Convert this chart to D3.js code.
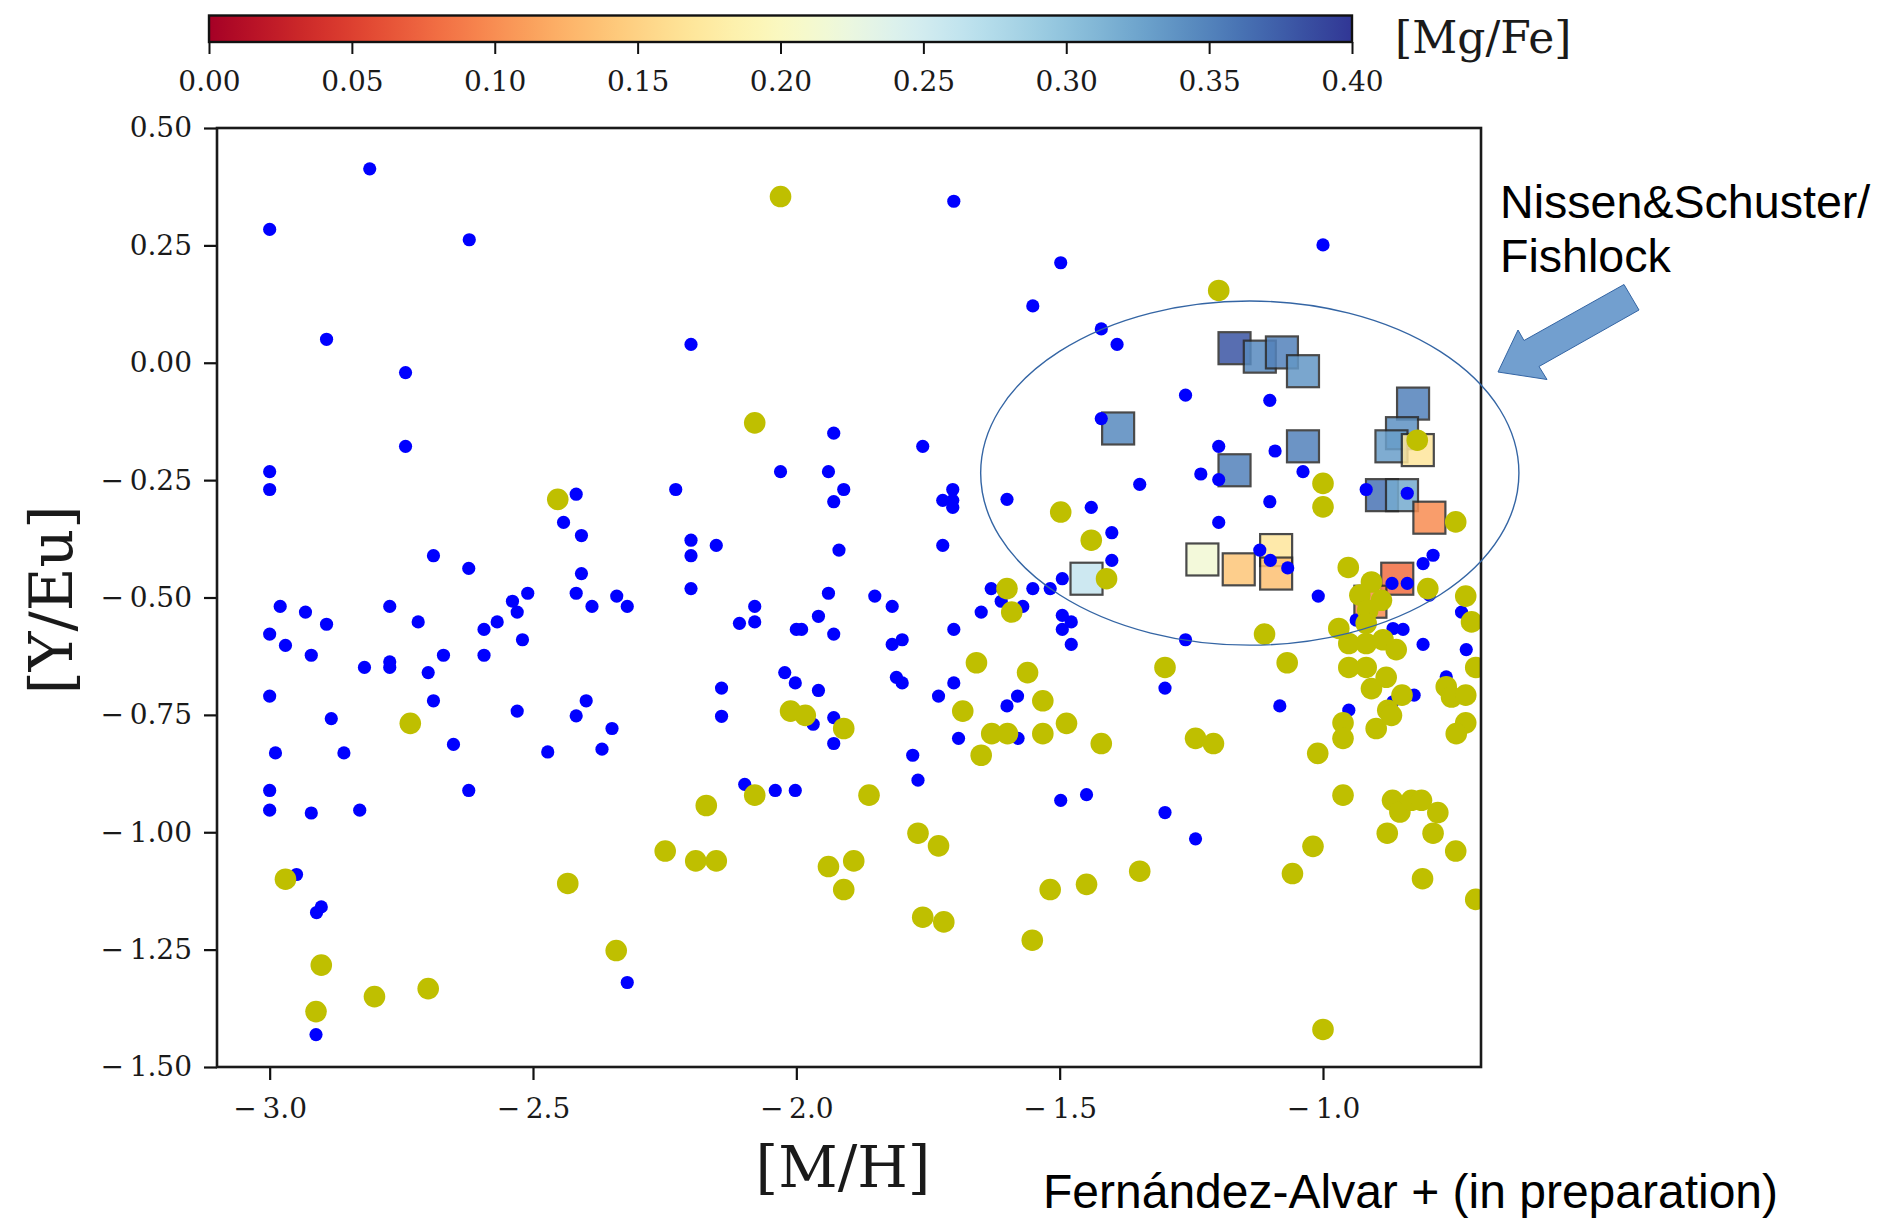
<!DOCTYPE html>
<html>
<head>
<meta charset="utf-8">
<script src="https://cdn.jsdelivr.net/npm/d3@7"></script>
<style>
  html, body { margin: 0; padding: 0; background: #fff; }
  svg { display: block; }
</style>
</head>
<body>
<svg id="chart" width="1885" height="1218"></svg>
<script>
// ---------------- DATA ----------------
// Blue points (Fernández-Alvar sample, small blue dots): [M/H]
const blueX = [
  -2.810,-3.000,-2.621,-2.892,-2.742,-1.701,-1.498,-1.551,-2.200,-1.929,
  -1.000,-1.421,-1.391,-1.261,-1.101,-1.421,-1.198,-1.091,-1.232,-1.198,
  -1.348,-1.038,-0.918,-0.840,-1.101,-1.440,-1.198,-1.401,-1.401,-1.495,
  -1.120,-1.100,-1.067,-0.791,-0.810,-0.869,-0.840,-1.009,-0.798,-0.737,
  -1.495,-1.478,-1.495,-1.478,-1.261,-0.937,-0.867,-0.848,-0.810,-0.728,
  -0.766,-1.300,-0.827,-0.867,-1.082,-0.951,-1.760,-2.030,-1.939,-2.229,
  -1.910,-1.929,-1.703,-1.722,-1.703,-1.703,-1.600,-2.200,-2.152,-2.200,
  -1.919,-1.722,-2.200,-1.939,-1.851,-1.818,-2.079,-2.108,-2.079,-2.000,
  -1.990,-1.958,-1.929,-1.818,-1.799,-1.630,-1.611,-1.570,-1.551,-1.518,
  -1.649,-1.701,-2.022,-2.002,-1.958,-2.142,-2.142,-1.810,-1.799,-1.701,
  -1.730,-1.580,-1.600,-1.968,-1.929,-1.929,-1.779,-1.692,-1.579,-1.769,
  -2.098,-2.040,-2.002,-1.498,-2.321,-1.449,-1.300,-1.242,-2.989,-2.859,
  -2.651,-2.472,-2.369,-3.000,-3.000,-2.921,-2.829,-2.622,-2.949,-2.902,
  -2.911,-2.912,-2.742,-3.000,-3.000,-2.418,-2.442,-2.408,-2.689,-2.622,
  -2.408,-2.510,-2.539,-2.530,-2.418,-2.388,-2.341,-2.321,-2.980,-2.932,
  -2.892,-2.772,-2.718,-3.000,-2.970,-2.921,-2.820,-2.772,-2.772,-2.699,
  -2.670,-2.593,-2.568,-2.593,-2.520,-3.000,-2.689,-2.883,-2.530,-2.399,
  -2.418,-2.350
];
// Blue points: [Y/Eu]
const blueY = [
   0.413, 0.284, 0.262, 0.050,-0.021, 0.344, 0.213, 0.121, 0.039,-0.150,
   0.251, 0.072, 0.039,-0.069,-0.080,-0.119,-0.178,-0.188,-0.237,-0.249,
  -0.259,-0.232,-0.270,-0.278,-0.296,-0.308,-0.340,-0.362,-0.421,-0.460,
  -0.399,-0.421,-0.437,-0.410,-0.428,-0.470,-0.470,-0.497,-0.495,-0.531,
  -0.538,-0.552,-0.568,-0.600,-0.590,-0.548,-0.566,-0.568,-0.600,-0.611,
  -0.669,-0.693,-0.708,-0.722,-0.731,-0.740,-0.178,-0.232,-0.232,-0.270,
  -0.270,-0.296,-0.270,-0.293,-0.293,-0.308,-0.291,-0.378,-0.389,-0.411,
  -0.399,-0.389,-0.481,-0.491,-0.497,-0.519,-0.519,-0.555,-0.552,-0.568,
  -0.568,-0.540,-0.578,-0.600,-0.590,-0.481,-0.508,-0.519,-0.481,-0.481,
  -0.531,-0.568,-0.660,-0.682,-0.698,-0.693,-0.753,-0.670,-0.682,-0.682,
  -0.710,-0.710,-0.731,-0.770,-0.756,-0.811,-0.836,-0.800,-0.800,-0.889,
  -0.898,-0.911,-0.911,-0.932,-1.320,-0.920,-0.958,-1.014,-0.831,-0.831,
  -0.813,-0.829,-0.823,-0.911,-0.953,-0.959,-0.953,-0.911,-1.090,-1.159,
  -1.171,-1.431,-0.178,-0.232,-0.270,-0.280,-0.340,-0.368,-0.411,-0.438,
  -0.449,-0.491,-0.508,-0.531,-0.491,-0.519,-0.497,-0.519,-0.519,-0.531,
  -0.557,-0.519,-0.552,-0.578,-0.602,-0.623,-0.649,-0.637,-0.649,-0.660,
  -0.623,-0.568,-0.552,-0.623,-0.590,-0.710,-0.720,-0.758,-0.742,-0.720,
  -0.752,-0.779
];
// Yellow points (large olive dots): [M/H]
const yellowX = [
  -2.030,-2.079,-1.198,-0.821,-1.498,-1.440,-1.411,-1.000,-1.000,-0.748,
  -0.952,-0.908,-0.930,-0.889,-0.915,-0.918,-0.801,-0.729,-0.718,-1.111,
  -0.970,-0.951,-0.918,-0.886,-0.861,-1.068,-1.300,-0.951,-0.918,-0.880,
  -0.908,-0.710,-0.766,-0.756,-0.729,-0.850,-0.877,-0.870,-0.899,-0.962,
  -0.962,-1.010,-0.729,-0.747,-1.487,-1.421,-1.242,-1.208,-1.600,-1.591,
  -1.658,-1.561,-1.532,-1.684,-1.629,-1.599,-1.532,-1.649,-2.011,-1.983,
  -1.910,-2.079,-2.171,-1.862,-2.249,-2.191,-2.152,-1.939,-1.891,-1.910,
  -1.769,-1.730,-1.760,-1.720,-1.518,-1.552,-1.449,-1.348,-0.962,-1.019,
  -1.058,-0.868,-0.854,-0.832,-0.813,-0.782,-0.878,-0.791,-0.748,-0.811,
  -0.710,-1.000,-2.970,-2.902,-2.912,-2.801,-2.699,-2.434,-2.342,-2.453,
  -2.733
];
// Yellow points: [Y/Eu]
const yellowY = [
   0.354,-0.128, 0.154,-0.165,-0.318,-0.378,-0.460,-0.257,-0.307,-0.339,
  -0.436,-0.467,-0.495,-0.506,-0.527,-0.555,-0.481,-0.497,-0.552,-0.578,
  -0.566,-0.598,-0.598,-0.590,-0.611,-0.639,-0.649,-0.649,-0.649,-0.670,
  -0.694,-0.649,-0.690,-0.712,-0.708,-0.708,-0.740,-0.751,-0.779,-0.767,
  -0.800,-0.832,-0.767,-0.790,-0.768,-0.811,-0.800,-0.811,-0.481,-0.531,
  -0.639,-0.660,-0.720,-0.742,-0.790,-0.790,-0.790,-0.836,-0.742,-0.751,
  -0.779,-0.921,-0.943,-0.921,-1.040,-1.061,-1.061,-1.073,-1.061,-1.122,
  -1.002,-1.029,-1.181,-1.191,-1.122,-1.230,-1.111,-1.083,-0.921,-1.030,
  -1.088,-0.932,-0.957,-0.932,-0.932,-0.958,-1.002,-1.002,-1.040,-1.099,
  -1.143,-1.420,-1.100,-1.283,-1.382,-1.350,-1.333,-1.109,-1.252,-0.291,
  -0.768
];
// Nissen & Schuster / Fishlock squares: [M/H], [Y/Eu], [Mg/Fe]
const sqX = [-1.168,-1.120,-1.078,-1.038,-0.829,-0.850,-0.870,-0.820,-1.389,-1.038,
             -1.168,-0.888,-0.850,-0.798,-1.449,-1.229,-1.160,-1.089,-1.089,-0.859,-0.910];
const sqY = [ 0.031, 0.013, 0.022,-0.018,-0.087,-0.150,-0.178,-0.186,-0.140,-0.178,
             -0.229,-0.282,-0.282,-0.330,-0.460,-0.419,-0.440,-0.399,-0.449,-0.460,-0.509];
const sqMgFe = [0.38,0.345,0.35,0.335,0.35,0.34,0.33,0.17,0.345,0.35,
                0.35,0.36,0.32,0.10,0.26,0.215,0.14,0.17,0.135,0.08,0.10];

const xTicks = [-3.0,-2.5,-2.0,-1.5,-1.0];
const yTicks = [-1.5,-1.25,-1.0,-0.75,-0.5,-0.25,0.0,0.25,0.5];
const cbTicks = [0.00,0.05,0.10,0.15,0.20,0.25,0.30,0.35,0.40];

// Annotation: ellipse around the squares, in data units
const ellipseC = [-1.139,-0.235];
const ellipseR = [0.511,0.3665];

// ---------------- DRAWING ----------------
const svg = d3.select("#chart");
svg.append("rect").attr("width",1885).attr("height",1218).attr("fill","#fff");

const L = 217, R = 1481, T = 128, B = 1067;
const x = d3.scaleLinear().domain([-3.1,-0.7]).range([L,R]);
const y = d3.scaleLinear().domain([-1.5,0.5]).range([B,T]);
const cmap = d3.scaleSequential(d3.interpolateRdYlBu).domain([0,0.4]);

const serif = "'DejaVu Serif', 'Liberation Serif', serif";
const sans = "'Liberation Sans', Arial, sans-serif";
const texFmt = p => { const f = d3.format(p); return v => (v < 0 ? "\u2212\u2009" + f(-v) : f(v)); };
const fmt1 = texFmt(".1f"), fmt2 = texFmt(".2f");

// Plot clip
svg.append("defs").append("clipPath").attr("id","clip")
  .append("rect").attr("x",L).attr("y",T).attr("width",R-L).attr("height",B-T);

const plot = svg.append("g").attr("clip-path","url(#clip)");

// squares (lowest layer)
const sqSide = 32;
plot.append("g").selectAll("rect").data(sqX.map((d,i)=>({x:d,y:sqY[i],c:sqMgFe[i]})))
  .join("rect")
  .attr("x",d=>x(d.x)-sqSide/2).attr("y",d=>y(d.y)-sqSide/2)
  .attr("width",sqSide).attr("height",sqSide)
  .attr("fill",d=>cmap(d.c)).attr("stroke","#2b2b2b").attr("stroke-width",2.2)
  .attr("opacity",0.85);

// blue dots
plot.append("g").selectAll("circle").data(blueX.map((d,i)=>[d,blueY[i]]))
  .join("circle").attr("cx",d=>x(d[0])).attr("cy",d=>y(d[1])).attr("r",6.6)
  .attr("fill","#0000ff");

// yellow dots
plot.append("g").selectAll("circle").data(yellowX.map((d,i)=>[d,yellowY[i]]))
  .join("circle").attr("cx",d=>x(d[0])).attr("cy",d=>y(d[1])).attr("r",10.8)
  .attr("fill","#bfbf00");

// axes
const xAxis = svg.append("g").attr("transform",`translate(0,${B})`)
  .call(d3.axisBottom(x).tickValues(xTicks).tickFormat(fmt1).tickSize(13).tickPadding(18));
const yAxis = svg.append("g").attr("transform",`translate(${L},0)`)
  .call(d3.axisLeft(y).tickValues(yTicks).tickFormat(fmt2).tickSize(13).tickPadding(12));
[xAxis,yAxis].forEach(a=>{
  a.select(".domain").remove();
  a.selectAll(".tick line").attr("stroke","#111").attr("stroke-width",2.2);
  a.selectAll(".tick text").attr("font-family",serif).attr("font-size",28).attr("fill","#1a1a1a");
});

// frame
svg.append("rect").attr("x",L).attr("y",T).attr("width",R-L).attr("height",B-T)
  .attr("fill","none").attr("stroke","#1a1a1a").attr("stroke-width",2.6);

// axis labels
svg.append("text").attr("x",(L+R)/2-6).attr("y",1187).attr("text-anchor","middle")
  .attr("font-family",serif).attr("font-size",58).attr("fill","#1a1a1a").text("[M/H]");
svg.append("text").attr("transform","translate(72,600) rotate(-90)").attr("text-anchor","middle")
  .attr("font-family",serif).attr("font-size",60).attr("fill","#1a1a1a").text("[Y/Eu]");

// colorbar
const cbL = 209, cbR = 1352, cbT = 15.5, cbB = 42;
const cx = d3.scaleLinear().domain([0,0.4]).range([cbL,cbR]);
const grad = svg.select("defs").append("linearGradient").attr("id","cbgrad")
  .attr("x1","0%").attr("x2","100%").attr("y1","0%").attr("y2","0%");
d3.range(0,1.0001,0.02).forEach(t=>{
  grad.append("stop").attr("offset",(t*100)+"%").attr("stop-color",cmap(t*0.4));
});
svg.append("rect").attr("x",cbL).attr("y",cbT).attr("width",cbR-cbL).attr("height",cbB-cbT)
  .attr("fill","url(#cbgrad)").attr("stroke","#111").attr("stroke-width",2.4);
const cbAxis = svg.append("g").attr("transform",`translate(0,${cbB})`)
  .call(d3.axisBottom(cx).tickValues(cbTicks).tickFormat(fmt2).tickSize(12).tickPadding(17));
cbAxis.select(".domain").remove();
cbAxis.selectAll(".tick line").attr("stroke","#111").attr("stroke-width",2);
cbAxis.selectAll(".tick text").attr("font-family",serif).attr("font-size",28).attr("fill","#1a1a1a");
svg.append("text").attr("x",1395).attr("y",53).attr("font-family",serif).attr("font-size",44)
  .attr("fill","#1a1a1a").text("[Mg/Fe]");

// ellipse annotation
svg.append("ellipse")
  .attr("cx",x(ellipseC[0])).attr("cy",y(ellipseC[1]))
  .attr("rx",x(ellipseC[0]+ellipseR[0])-x(ellipseC[0]))
  .attr("ry",y(ellipseC[1])-y(ellipseC[1]+ellipseR[1]))
  .attr("fill","none").attr("stroke","#3465a4").attr("stroke-width",1.4);

// arrow annotation
const arrowPts = [[1498,372],[1518,330],[1524,340.5],[1624,284.5],[1639,310],[1539,366.5],[1547,379.5]];
svg.append("polygon").attr("points",arrowPts.map(p=>p.join(",")).join(" "))
  .attr("fill","#729fcf").attr("stroke","#3465a4").attr("stroke-width",1);

// texts
svg.append("text").attr("x",1500).attr("y",218).attr("font-family",sans).attr("font-size",46.6)
  .attr("fill","#000").text("Nissen&Schuster/");
svg.append("text").attr("x",1500).attr("y",272).attr("font-family",sans).attr("font-size",46.6)
  .attr("fill","#000").text("Fishlock");
svg.append("text").attr("x",1043).attr("y",1208).attr("font-family",sans).attr("font-size",48)
  .attr("fill","#000").text("Fernández-Alvar + (in preparation)");
</script>
</body>
</html>
